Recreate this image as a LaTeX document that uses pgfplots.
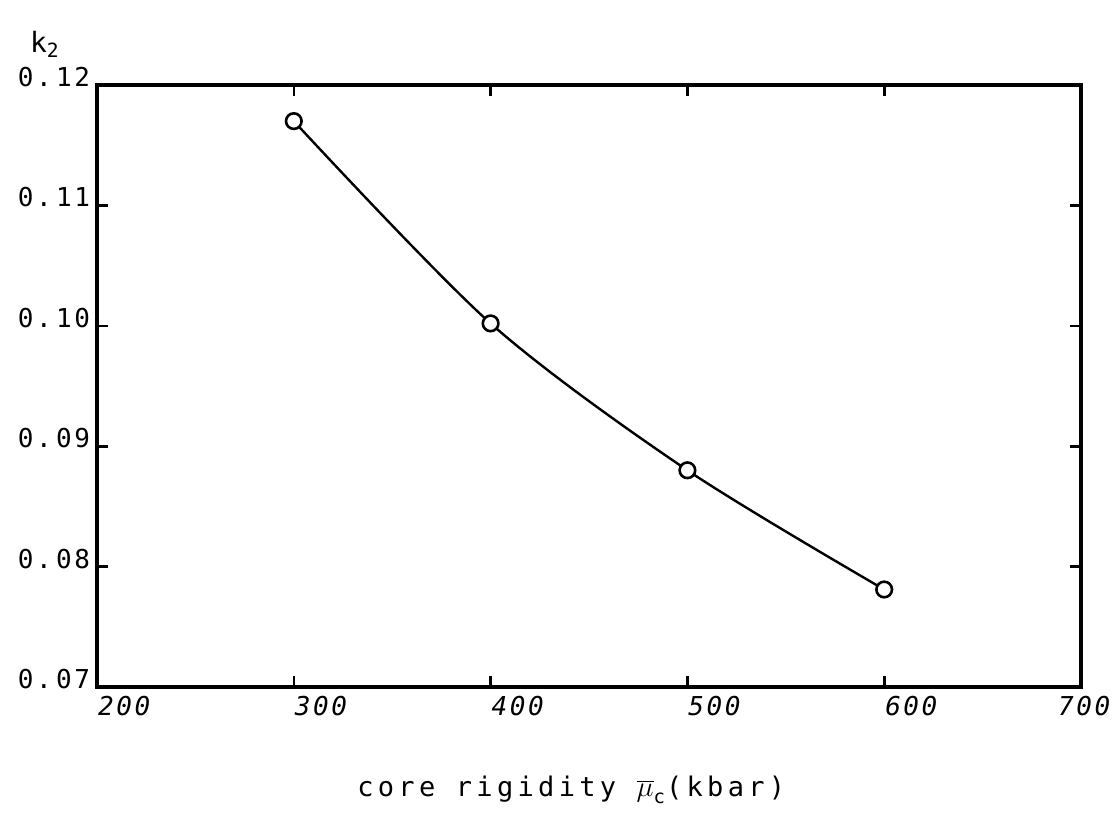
\documentclass[border=0pt]{standalone}
\usepackage{pgfplots}
\pgfplotsset{compat=1.18}
\usepackage{fontspec}
\setmainfont{DejaVu Sans Mono}
\newfontfamily\tw[LetterSpace=10]{DejaVu Sans Mono}
\newfontfamily\twx[LetterSpace=16]{DejaVu Sans Mono}
\begin{document}
\begin{tikzpicture}
\useasboundingbox (-48.5pt,-64pt) rectangle (511.5pt,343.5pt);
\begin{axis}[
  at={(0,0)}, anchor=south west,
  scale only axis,
  width=492pt, height=301pt,
  xmin=200, xmax=700, ymin=0.07, ymax=0.12,
  axis line style={line width=1.6pt},
  xtick={200,300,400,500,600,700},
  xticklabels={200,300,400,500,600,{\hspace*{-12pt}700}},
  ytick={0.07,0.08,0.09,0.10,0.11,0.12},
  yticklabels={{0.\,07},{0.\,08},{0.\,09},{0.\,10},{0.\,11},{0.\,12}},
  tick align=inside,
  major tick length=5.5pt,
  tick style={line width=1.3pt, black},
  xtick pos=both, ytick pos=both,
  xticklabel pos=bottom, yticklabel pos=left,
  xticklabel style={font=\tw\fontsize{13}{15}\selectfont\itshape, anchor=north west, xshift=-3pt, yshift=-1pt},
  yticklabel style={font=\tw\fontsize{13}{15}\selectfont, anchor=east, yshift=4pt, xshift=0pt},
  clip=false,
]
\addplot[line width=1.2pt, smooth, mark=*, mark size=3.9pt,
  mark options={fill=white, draw=black, line width=1.3pt}]
  coordinates {(300,0.1170) (400,0.1002) (500,0.0880) (600,0.0781)};
\node[font=\twx\fontsize{13.5}{15}\selectfont, anchor=center] at (rel axis cs:0.482,-0.171) {core rigidity $\overline{\mu}_{\mathrm{c}}$(kbar)};
\node[font=\fontsize{14}{15}\selectfont, anchor=center] at (rel axis cs:-0.053,1.068) {k$_{\mathrm{2}}$};
\end{axis}
\end{tikzpicture}
\end{document}
